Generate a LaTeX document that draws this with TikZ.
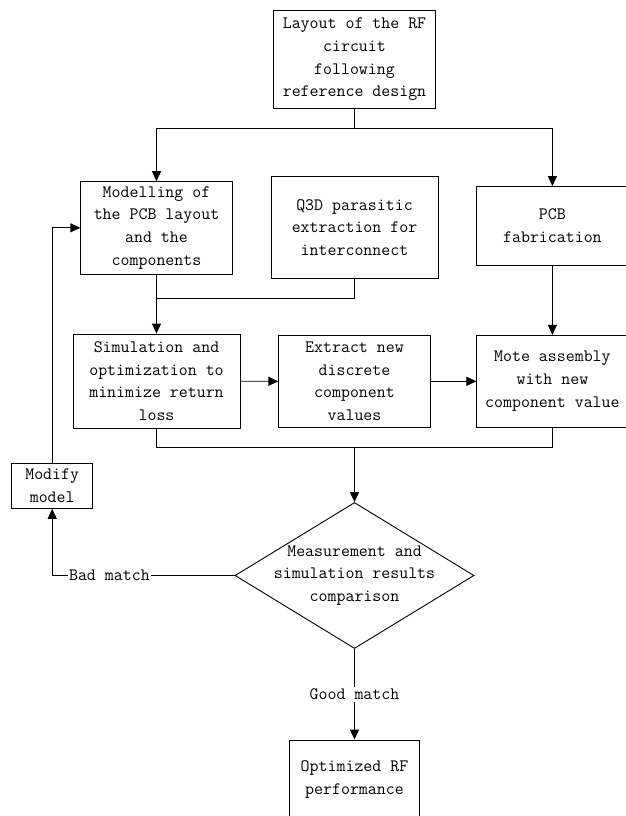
\documentclass[tikz,border=0pt]{standalone}
\usepackage{fontspec}
\usetikzlibrary{shapes.geometric,arrows.meta}
\newcommand{\diafont}{\ttfamily\fontsize{17.4}{22.7}\selectfont}
\begin{document}
\begin{tikzpicture}[x=1pt,y=-1pt,
  every node/.style={font=\diafont, align=center},
  box/.style={draw, line width=0.9pt, inner sep=0pt},
  arr/.style={line width=0.9pt, -{Triangle[length=10pt,width=9pt]}},
  ln/.style={line width=0.9pt},
  lbl/.style={fill=white, inner xsep=1pt, inner ysep=2pt}]
\useasboundingbox (0,0) rectangle (625,816);

\node[box, minimum width=162pt, minimum height=98.7pt] (top) at (354.5,59.4)
  {Layout of the RF\\circuit\\following\\reference design};
\node[box, minimum width=151.4pt, minimum height=92.3pt] (model) at (156.5,227.8)
  {Modelling of\\the PCB layout\\and the\\components};
\node[box, minimum width=167pt, minimum height=101.7pt] (q3d) at (354.5,227.5)
  {Q3D parasitic\\extraction for\\interconnect};
\node[box, minimum width=151pt, minimum height=78.3pt] (pcb) at (552.4,225.8)
  {PCB\\fabrication};
\node[box, minimum width=167pt, minimum height=94.3pt] (sim) at (156.5,381.2)
  {Simulation and\\optimization to\\minimize return\\loss};
\node[box, minimum width=151.4pt, minimum height=92pt] (extract) at (354.5,381.3)
  {Extract new\\discrete\\component\\values};
\node[box, minimum width=151pt, minimum height=92pt] (mote) at (552.4,381.3)
  {Mote assembly\\with new\\component value};
\node[box, minimum width=81pt, minimum height=45pt] (modify) at (52.2,485.8)
  {Modify\\model};
\node[draw, line width=0.9pt, diamond, inner sep=0pt, minimum width=239pt, minimum height=146pt] (cmp) at (354.5,575.5) {};
\node (cmptext) at (cmp.center) {Measurement and\\simulation results\\comparison};
\node[box, minimum width=130.3pt, minimum height=79.4pt] (opt) at (354.5,779.7)
  {Optimized RF\\performance};

\coordinate (split) at (354.5,128.3);
\coordinate (join1) at (156.5,298.3);
\coordinate (join2) at (354.5,447.5);

\draw[ln] (top.south) -- (split);
\draw[arr] (split) -| (model.north);
\draw[arr] (split) -| (pcb.north);
\draw[ln] (q3d.south) |- (join1);
\draw[arr] (model.south) -- (sim.north);
\draw[arr] (pcb.south) -- (mote.north);
\draw[arr] (sim.east) -- (extract.west);
\draw[arr] (extract.east) -- (mote.west);
\draw[ln] (sim.south) |- (join2);
\draw[ln] (mote.south) |- (join2);
\draw[arr] (join2) -- (cmp.north);
\draw[arr] (cmp.west) -| (modify.south);
\node[lbl] (bad) at (109.4,575.6) {Bad match};
\draw[arr] (modify.north) |- (model.west);
\draw[arr] (cmp.south) -- node[lbl] (good) {Good match} (opt.north);
\end{tikzpicture}
\end{document}
